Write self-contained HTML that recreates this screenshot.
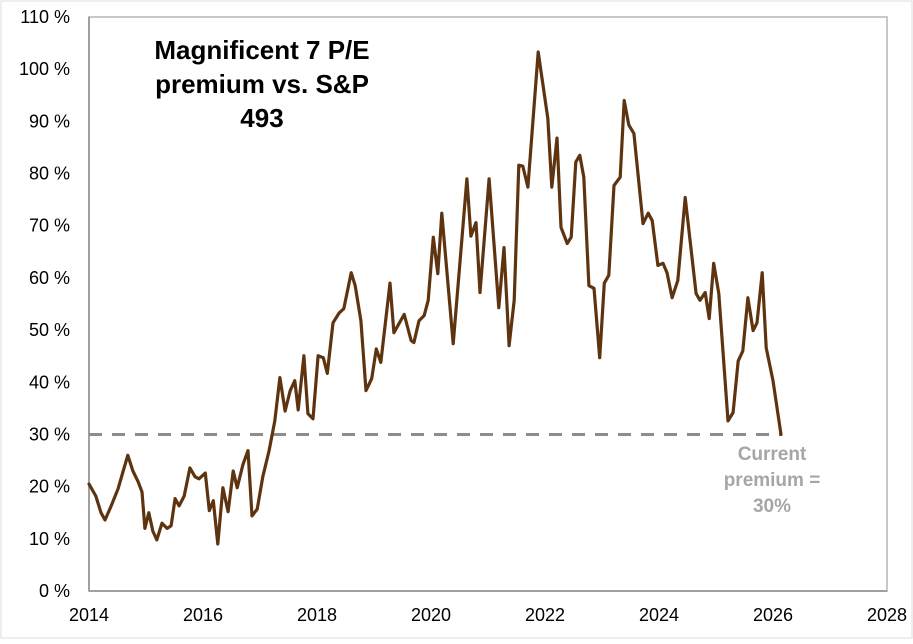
<!DOCTYPE html>
<html><head><meta charset="utf-8">
<style>
html,body{margin:0;padding:0;background:#fff;}
svg text{font-family:"Liberation Sans Narrow","Liberation Sans",sans-serif;}
</style></head>
<body>
<svg id="chart" width="913" height="639" viewBox="0 0 913 639" xmlns="http://www.w3.org/2000/svg">
  <rect x="0" y="0" width="913" height="639" fill="#fff"/>
  <rect x="1" y="1" width="911" height="637" fill="none" stroke="#ddd" stroke-width="1"/>
  <g id="axes"></g>
  <g id="ref"></g>
  <g id="series"></g>
  <g font-weight="bold" font-size="26" fill="#000" text-anchor="middle">
    <text x="262" y="59" style="font-family:'Liberation Sans',sans-serif">Magnificent 7 P/E</text>
    <text x="262" y="93" style="font-family:'Liberation Sans',sans-serif">premium vs. S&amp;P</text>
    <text x="262" y="127" style="font-family:'Liberation Sans',sans-serif">493</text>
  </g>
  <g font-size="19" fill="#a6a6a6" font-weight="bold" text-anchor="middle">
    <text x="772" y="460">Current</text>
    <text x="772" y="486">premium =</text>
    <text x="772" y="512">30%</text>
  </g>
</svg>
<script>
const dates = [2014.00,2014.12,2014.21,2014.28,2014.39,2014.51,2014.60,2014.68,2014.77,2014.86,2014.93,2014.98,2015.05,2015.12,2015.19,2015.28,2015.37,2015.44,2015.51,2015.58,2015.67,2015.77,2015.86,2015.93,2016.04,2016.11,2016.18,2016.26,2016.35,2016.44,2016.53,2016.60,2016.70,2016.79,2016.86,2016.95,2017.05,2017.16,2017.26,2017.35,2017.44,2017.53,2017.61,2017.67,2017.77,2017.84,2017.93,2018.02,2018.11,2018.18,2018.28,2018.39,2018.47,2018.60,2018.67,2018.77,2018.86,2018.96,2019.04,2019.12,2019.28,2019.35,2019.53,2019.65,2019.70,2019.79,2019.88,2019.95,2020.04,2020.12,2020.19,2020.39,2020.63,2020.70,2020.79,2020.86,2021.02,2021.19,2021.28,2021.37,2021.46,2021.54,2021.61,2021.70,2021.88,2022.05,2022.12,2022.21,2022.28,2022.39,2022.46,2022.54,2022.61,2022.68,2022.77,2022.86,2022.96,2023.04,2023.12,2023.21,2023.32,2023.39,2023.47,2023.56,2023.72,2023.81,2023.88,2023.98,2024.07,2024.14,2024.23,2024.33,2024.46,2024.65,2024.72,2024.81,2024.88,2024.96,2025.05,2025.21,2025.30,2025.39,2025.47,2025.56,2025.65,2025.72,2025.81,2025.88,2026.00,2026.14];
const premiums = [20.5,18.2,15,13.6,16.3,19.6,23,26,23,21,19,12,15,11.5,9.8,13,12,12.5,17.7,16.3,18.2,23.6,21.9,21.5,22.6,15.4,17.3,9,19.8,15.2,23,19.8,24.2,26.9,14.4,15.7,21.9,26.9,32.6,40.9,34.5,38.4,40.3,34.7,45.1,34,33,45.1,44.7,41.7,51.4,53.3,54.1,61,58.5,51.8,38.4,40.7,46.4,43.8,59,49.5,53,48,47.6,51.8,52.8,55.7,67.8,60.8,72.4,47.4,79,68,70.6,57.2,79,54.3,65.8,47,55.7,81.6,81.4,77.4,103.3,90.6,77.4,86.8,69.7,66.6,67.8,82.2,83.5,79.3,58.5,58,44.7,59,60.5,77.7,79.3,94,89.3,87.7,70.4,72.4,71,62.4,62.8,61,56.2,59.5,75.4,57,55.7,57.2,52.2,62.8,57,32.6,34.2,44.1,46,56.2,49.9,51.4,61,46.6,40.3,30];
const xTicks = [2014,2016,2018,2020,2022,2024,2026,2028];
const yTicks = [0,10,20,30,40,50,60,70,80,90,100,110];
const currentPremium = [30];

const NS="http://www.w3.org/2000/svg";
const X0=89, X1=887, Y0=591, Y1=17;
const xMin=2014, xMax=2028, yMin=0, yMax=110;
function xs(v){return X0+(v-xMin)/(xMax-xMin)*(X1-X0);}
function ys(v){return Y0-(v-yMin)/(yMax-yMin)*(Y0-Y1);}
function mk(tag,attrs,parent){const e=document.createElementNS(NS,tag);for(const k in attrs)e.setAttribute(k,attrs[k]);parent.appendChild(e);return e;}

const axes=document.getElementById('axes');
const frame=mk('rect',{x:X0,y:Y1,width:X1-X0,height:Y0-Y1,fill:'none',stroke:'#c8c8c8','stroke-width':2},axes);


const xl=mk('line',{x1:X0,y1:Y0,x2:X1,y2:Y0,stroke:'#a0a0a0','stroke-width':2},axes);


const yl=mk('line',{x1:X0,y1:Y1,x2:X0,y2:Y0,stroke:'#a0a0a0','stroke-width':2},axes);


xTicks.forEach(t=>{
  const tx=mk('text',{x:xs(t),y:Y0+30,'text-anchor':'middle','font-size':18,fill:'#000'},axes);
  tx.textContent=t;
  
  
});
yTicks.forEach(t=>{
  const tx=mk('text',{x:70,y:ys(t)+6,'text-anchor':'end','font-size':18,fill:'#000'},axes);
  tx.textContent=t+' %';
  
  
});

const ref=document.getElementById('ref');
const dl=mk('line',{x1:X0,y1:ys(currentPremium[0]),x2:xs(dates[dates.length-1]),y2:ys(currentPremium[0]),stroke:'#8c8c8c','stroke-width':3,'stroke-dasharray':'13,10'},ref);



const series=document.getElementById('series');
const pts=dates.map((d,i)=>xs(d).toFixed(1)+','+ys(premiums[i]).toFixed(1)).join(' ');
const pl=mk('polyline',{points:pts,fill:'none',stroke:'#5e3410','stroke-width':3.2,'stroke-linejoin':'round','stroke-linecap':'round'},series);


</script>
</body></html>
